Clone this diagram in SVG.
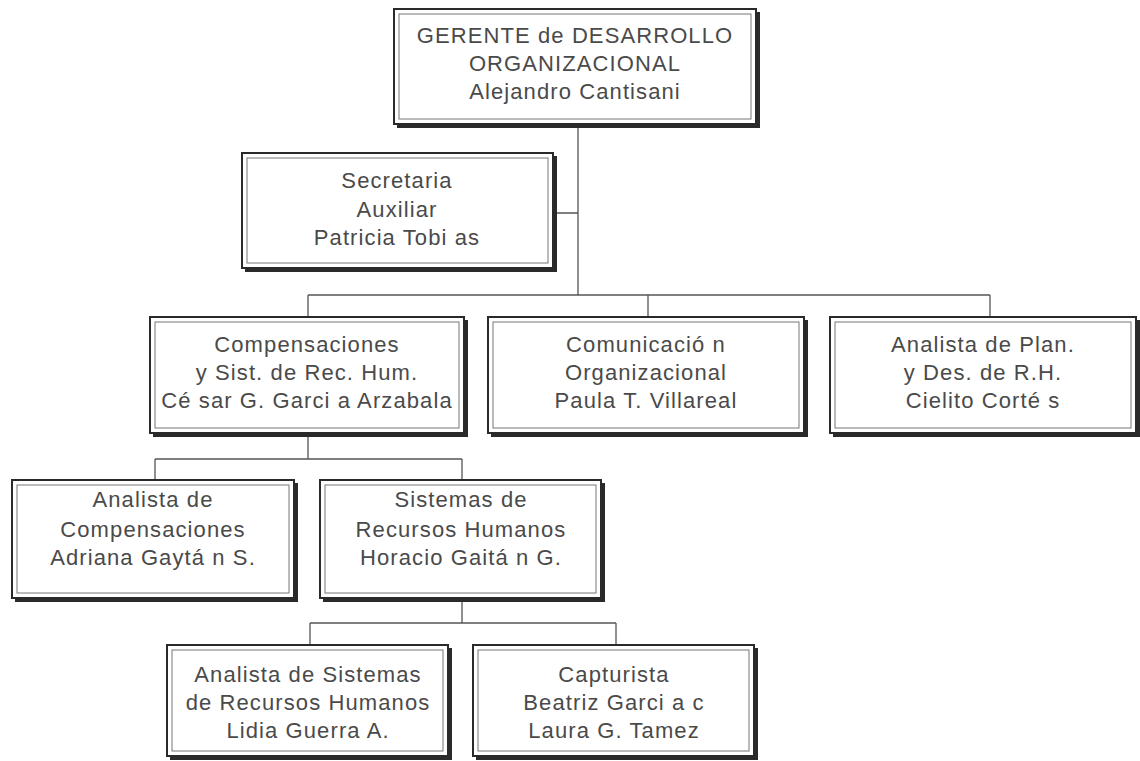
<svg xmlns="http://www.w3.org/2000/svg" width="1140" height="761" viewBox="0 0 1140 761">
<style>
.o{fill:#fff;stroke:#2a2a2a;stroke-width:2}
.s{fill:none;stroke:#2a2a2a;stroke-width:4}
.i{fill:none;stroke:#777;stroke-width:1}
.t{font-family:"Liberation Sans",Arial,sans-serif;font-size:22px;letter-spacing:1.1px;fill:#4a4a4a;text-anchor:middle}
.c{fill:none;stroke:#555;stroke-width:1.3}
</style>
<rect width="1140" height="761" fill="#fff"/>
<g id="connectors">
<path class="c" d="M578 125V295M555 213H578M308 295H990M308 295V317M648 295V317M990 295V317"/>
<path class="c" d="M308 435V459M155 459H462M155 459V480M462 459V480"/>
<path class="c" d="M462 600V623M310 623H616M310 623V645M616 623V645"/>
</g>
<g id="gerente">
<rect class="o" x="394" y="9" width="362" height="115"/>
<polyline class="s" points="397,126 758,126 758,12"/>
<rect class="i" x="399" y="14" width="352" height="105"/>
<text class="t" x="575" y="43">GERENTE de DESARROLLO</text>
<text class="t" x="575" y="71">ORGANIZACIONAL</text>
<text class="t" x="575" y="99">Alejandro Cantisani</text>
</g>
<g id="secretaria">
<rect class="o" x="242" y="153" width="311" height="115"/>
<polyline class="s" points="245,270 555,270 555,156"/>
<rect class="i" x="247" y="158" width="301" height="105"/>
<text class="t" x="397" y="188">Secretaria</text>
<text class="t" x="397" y="217">Auxiliar</text>
<text class="t" x="397" y="245">Patricia Tobi as</text>
</g>
<g id="compensaciones">
<rect class="o" x="150" y="317" width="314" height="116"/>
<polyline class="s" points="153,435 466,435 466,320"/>
<rect class="i" x="155" y="322" width="304" height="106"/>
<text class="t" x="307" y="352">Compensaciones</text>
<text class="t" x="307" y="380">y Sist. de Rec. Hum.</text>
<text class="t" x="307" y="408">Cé sar G. Garci a Arzabala</text>
</g>
<g id="comunicacion">
<rect class="o" x="488" y="317" width="316" height="116"/>
<polyline class="s" points="491,435 806,435 806,320"/>
<rect class="i" x="493" y="322" width="306" height="106"/>
<text class="t" x="646" y="352">Comunicació n</text>
<text class="t" x="646" y="380">Organizacional</text>
<text class="t" x="646" y="408">Paula T. Villareal</text>
</g>
<g id="analista-plan">
<rect class="o" x="830" y="317" width="306" height="116"/>
<polyline class="s" points="833,435 1138,435 1138,320"/>
<rect class="i" x="835" y="322" width="296" height="106"/>
<text class="t" x="983" y="352">Analista de Plan.</text>
<text class="t" x="983" y="380">y Des. de R.H.</text>
<text class="t" x="983" y="408">Cielito Corté s</text>
</g>
<g id="analista-compensaciones">
<rect class="o" x="12" y="480" width="282" height="118"/>
<polyline class="s" points="15,600 296,600 296,483"/>
<rect class="i" x="17" y="485" width="272" height="108"/>
<text class="t" x="153" y="507">Analista de</text>
<text class="t" x="153" y="537">Compensaciones</text>
<text class="t" x="153" y="565">Adriana Gaytá n S.</text>
</g>
<g id="sistemas">
<rect class="o" x="320" y="480" width="281" height="118"/>
<polyline class="s" points="323,600 603,600 603,483"/>
<rect class="i" x="325" y="485" width="271" height="108"/>
<text class="t" x="461" y="507">Sistemas de</text>
<text class="t" x="461" y="537">Recursos Humanos</text>
<text class="t" x="461" y="565">Horacio Gaitá n G.</text>
</g>
<g id="analista-sistemas">
<rect class="o" x="167" y="645" width="281" height="111"/>
<polyline class="s" points="170,758 450,758 450,648"/>
<rect class="i" x="172" y="650" width="271" height="101"/>
<text class="t" x="308" y="682">Analista de Sistemas</text>
<text class="t" x="308" y="710">de Recursos Humanos</text>
<text class="t" x="308" y="738">Lidia Guerra A.</text>
</g>
<g id="capturista">
<rect class="o" x="473" y="645" width="281" height="111"/>
<polyline class="s" points="476,758 756,758 756,648"/>
<rect class="i" x="478" y="650" width="271" height="101"/>
<text class="t" x="614" y="682">Capturista</text>
<text class="t" x="614" y="710">Beatriz Garci a c</text>
<text class="t" x="614" y="738">Laura G. Tamez</text>
</g>
</svg>
